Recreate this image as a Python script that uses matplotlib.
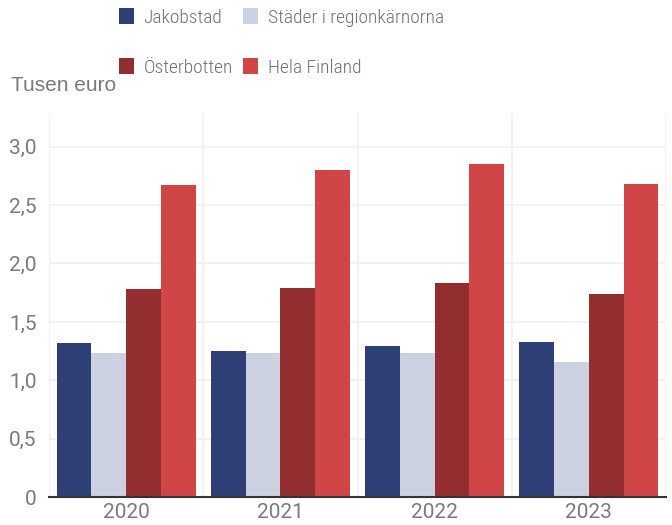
import numpy as np
import matplotlib
matplotlib.use('Agg')
import matplotlib.pyplot as plt
from matplotlib.patches import Patch

years = ['2020', '2021', '2022', '2023']
series = ['Jakobstad', 'Städer i regionkärnorna', 'Österbotten', 'Hela Finland']
jakobstad = [1.32, 1.25, 1.29, 1.33]
stader = [1.23, 1.23, 1.23, 1.16]
osterbotten = [1.78, 1.79, 1.83, 1.74]
hela_finland = [2.67, 2.80, 2.85, 2.68]
yticks = [0, 0.5, 1.0, 1.5, 2.0, 2.5, 3.0]
ytick_labels = ['0', '0,5', '1,0', '1,5', '2,0', '2,5', '3,0']

colors = ['#2e3f75', '#cbd1e0', '#922e2f', '#d04545']
grey = '#7a7a7a'
legend_font = ['Roboto Condensed', 'Liberation Sans', 'DejaVu Sans']
tick_font = ['Roboto', 'Liberation Sans', 'DejaVu Sans']

fig = plt.figure(figsize=(6.72, 5.25), dpi=100)
ax = fig.add_axes([0.073, 0.053, 0.918, 0.730])

x = np.arange(len(years))
w = 0.225
values = [jakobstad, stader, osterbotten, hela_finland]
for i, vals in enumerate(values):
    ax.bar(x + (i - 1.5) * w, vals, width=w, color=colors[i], zorder=2, linewidth=0)

ax.set_xlim(-0.5, 3.5)
ax.set_ylim(0, 3.28)
ax.set_yticks(yticks)
ax.set_yticklabels(ytick_labels, family=tick_font, fontsize=15, color=grey)
ax.set_xticks(x)
ax.set_xticklabels(years, family=tick_font, fontsize=15, color=grey)
ax.set_xticks(np.arange(-0.5, 3.6, 0.5), minor=True)
ax.tick_params(axis='both', which='both', length=0)
ax.tick_params(axis='y', pad=9)
ax.tick_params(axis='x', pad=4)
ax.grid(axis='y', color='#f2f2f2', linewidth=1.5, zorder=0)
ax.grid(axis='x', which='minor', color='#f2f2f2', linewidth=1.5, zorder=0)
for s in ['top', 'right', 'left']:
    ax.spines[s].set_visible(False)
ax.spines['bottom'].set_color('#333333')
ax.spines['bottom'].set_linewidth(1.5)
ax.spines['bottom'].set_zorder(3)

fig.text(11 / 672, 1 - 91 / 525, 'Tusen euro', family=['Liberation Sans', 'DejaVu Sans'],
         fontsize=15, color=grey, va='baseline')

order = [0, 2, 1, 3]
handles = [Patch(facecolor=colors[i], edgecolor='none') for i in order]
labels = [series[i] for i in order]
leg = fig.legend(handles, labels, loc='upper left', bbox_to_anchor=(119 / 672, 0.985),
                 ncol=2, frameon=False, borderpad=0, borderaxespad=0,
                 handlelength=0.75, handleheight=0.9, handletextpad=0.5,
                 columnspacing=0.55, labelspacing=1.6,
                 prop={'family': legend_font, 'size': 14, 'weight': 'light'})
for t in leg.get_texts():
    t.set_color('#707070')

fig.savefig('out.png', dpi=100)
